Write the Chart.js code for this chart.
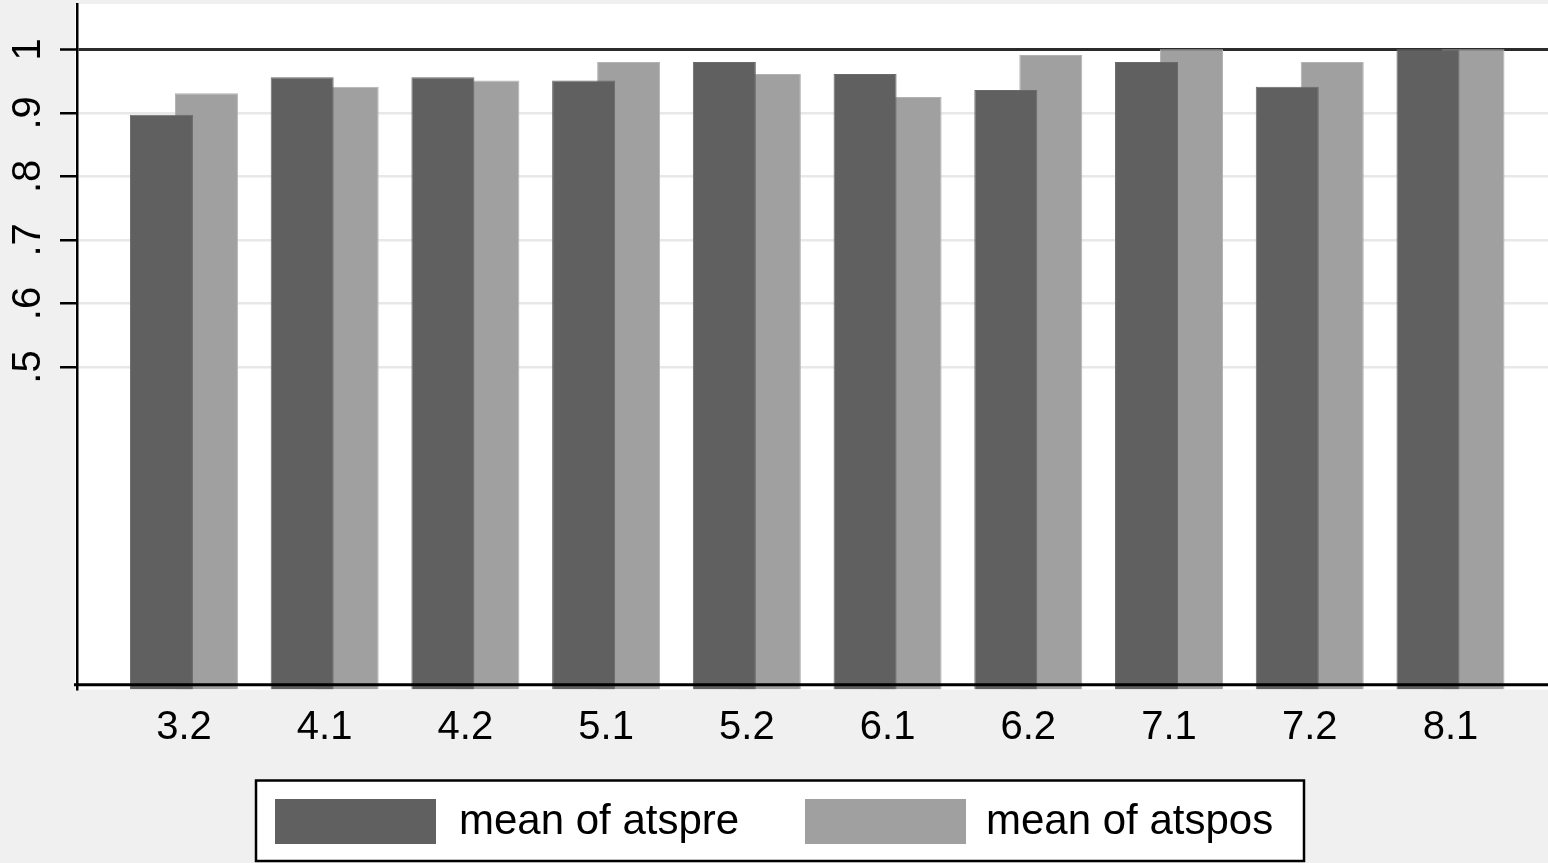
<!DOCTYPE html>
<html><head><meta charset="utf-8">
<style>html,body{margin:0;padding:0;background:#f0f0f0;overflow:hidden}</style>
<script src="https://cdn.jsdelivr.net/npm/chart.js@4.4.0/dist/chart.umd.min.js"></script>
</head><body>
<canvas id="c" width="1548" height="863" style="display:block"></canvas>
<script>
const categories = ['3.2','4.1','4.2','5.1','5.2','6.1','6.2','7.1','7.2','8.1'];
const atspre = [0.897, 0.956, 0.956, 0.951, 0.980, 0.961, 0.936, 0.980, 0.941, 1.000];
const atspos = [0.931, 0.941, 0.951, 0.980, 0.961, 0.925, 0.991, 1.000, 0.980, 1.000];
const yTickValues = [0.5, 0.6, 0.7, 0.8, 0.9, 1];
const seriesNames = ['mean of atspre', 'mean of atspos'];

const FONT = "'Liberation Sans', Arial, Helvetica, sans-serif";
const Y_MIN = -0.0076, Y_MAX = 1.0713;
const X_MIN = -0.760, X_MAX = 9.693;
const colors = ['#606060', '#a0a0a0'];
const borders = ['#6a6a6a', '#b2b2b2'];

const stataPlugin = {
  id: 'stata',
  beforeDraw(chart) {
    const {ctx, chartArea: a} = chart;
    ctx.save();
    ctx.fillStyle = '#f0f0f0';
    ctx.fillRect(0, 0, chart.width, chart.height);
    ctx.fillStyle = '#ffffff';
    ctx.fillRect(a.left - 2, a.top, a.right - a.left + 2, a.bottom - a.top);
    ctx.restore();
  },
  afterDatasetsDraw(chart) {
    const {ctx, chartArea: a, scales: {y}} = chart;
    const y0 = y.getPixelForValue(0);
    ctx.save();
    ctx.strokeStyle = '#000';
    ctx.lineWidth = 3;
    ctx.beginPath();
    ctx.moveTo(a.left - 3, y0);
    ctx.lineTo(a.right, y0);
    ctx.stroke();
    ctx.restore();
  },
  afterDraw(chart) {
    const ctx = chart.ctx;
    const box = {left: 256, top: 780.5, width: 1048, height: 80.5};
    ctx.save();
    ctx.fillStyle = '#ffffff';
    ctx.fillRect(box.left, box.top, box.width, box.height);
    ctx.strokeStyle = '#000';
    ctx.lineWidth = 2.5;
    ctx.strokeRect(box.left, box.top, box.width, box.height);
    const items = [{sx: 275, tx: 459}, {sx: 805, tx: 986}];
    ctx.font = '42px ' + FONT;
    ctx.textBaseline = 'middle';
    ctx.textAlign = 'left';
    chart.data.datasets.forEach((ds, i) => {
      ctx.fillStyle = ds.backgroundColor;
      ctx.fillRect(items[i].sx, 799, 161, 45);
      ctx.fillStyle = '#000';
      ctx.fillText(ds.label, items[i].tx, 822);
    });
    ctx.restore();
  }
};

const datasets = [atspre, atspos].map((vals, k) => ({
  label: seriesNames[k],
  data: categories.map((c, i) => ({x: i, y: vals[i]})),
  backgroundColor: colors[k],
  borderColor: borders[k],
  borderWidth: 1,
  categoryPercentage: 0.6396,
  barPercentage: 1.4,
  base: Y_MIN
}));

new Chart(document.getElementById('c'), {
  type: 'bar',
  data: {datasets},
  plugins: [stataPlugin],
  options: {
    responsive: false,
    animation: false,
    devicePixelRatio: 1,
    layout: {padding: {top: 4, left: 0, right: 0, bottom: 113.5}},
    plugins: {legend: {display: false}, tooltip: {enabled: false}},
    scales: {
      x: {
        type: 'linear',
        offset: false,
        min: X_MIN, max: X_MAX,
        afterBuildTicks: s => { s.ticks = categories.map((c, i) => ({value: i})); },
        afterFit: s => { s.height = 60; s.paddingLeft = 0; s.paddingRight = 0; },
        grid: {display: false, drawTicks: false},
        border: {display: false},
        ticks: {
          autoSkip: false, maxRotation: 0, minRotation: 0, padding: 14,
          color: '#000', font: {family: FONT, size: 40},
          callback: v => categories[v] !== undefined ? categories[v] : ''
        }
      },
      y: {
        min: Y_MIN, max: Y_MAX,
        afterBuildTicks: s => { s.ticks = yTickValues.map(v => ({value: v})); },
        afterFit: s => { s.width = 77; s.paddingTop = 0; s.paddingBottom = 0; },
        grid: {
          color: c => (c.tick && c.tick.value === 1) ? '#2b2b2b' : '#e8e8e8',
          lineWidth: c => (c.tick && c.tick.value === 1) ? 3 : 2.5,
          drawTicks: true, tickLength: 17, tickWidth: 2.5, tickColor: '#000'
        },
        border: {display: true, color: '#000', width: 2.5},
        ticks: {
          minRotation: 90, maxRotation: 90, crossAlign: 'center', padding: 14,
          color: '#000', font: {family: FONT, size: 40},
          callback: v => v === 1 ? '1' : String(v).replace(/^0/, '')
        }
      }
    }
  }
});
</script>
</body></html>
